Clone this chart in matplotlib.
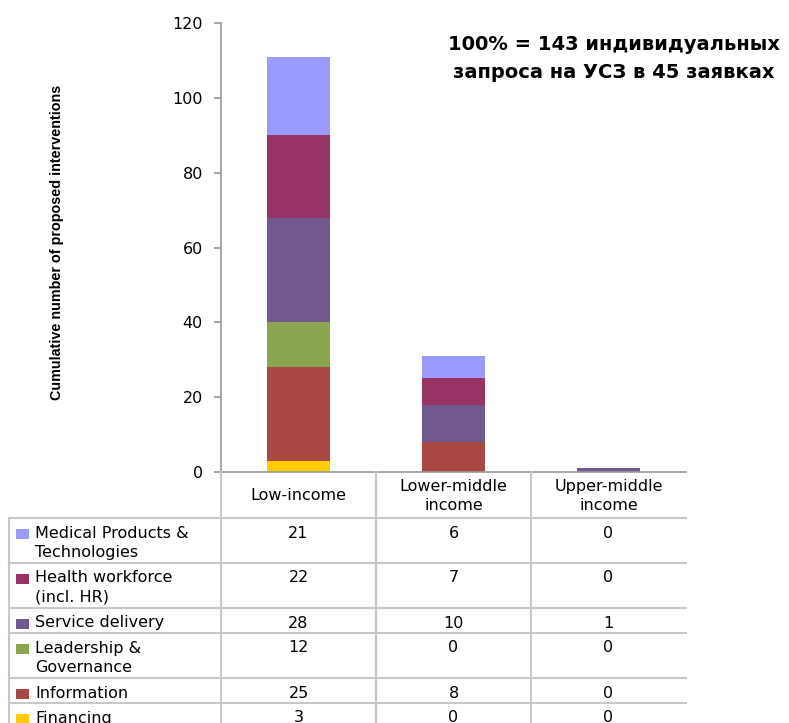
import matplotlib
matplotlib.use("Agg")
import matplotlib.pyplot as plt
from matplotlib.transforms import blended_transform_factory
from matplotlib.patches import Rectangle
from matplotlib.lines import Line2D

# Income groups (columns) and health-system components (stack order, bottom to top)
income_groups = ["Low-income", "Lower-middle\nincome", "Upper-middle\nincome"]
components = ["Financing", "Information", "Leadership &\nGovernance",
              "Service delivery", "Health workforce\n(incl. HR)",
              "Medical Products &\nTechnologies"]

financing = [3, 0, 0]
information = [25, 8, 0]
leadership = [12, 0, 0]
service_delivery = [28, 10, 1]
health_workforce = [22, 7, 0]
medical_products = [21, 6, 0]

series = [financing, information, leadership, service_delivery,
          health_workforce, medical_products]
colors = ["#FFCC00", "#A94743", "#8BA54F", "#71588F", "#993366", "#9B9BFF"]

y_ticks = [0, 20, 40, 60, 80, 100, 120]
title_lines = ["100% = 143 индивидуальных", "запроса на УСЗ в 45 заявках"]
y_label = "Cumulative number of proposed interventions"

W, H = 789, 723
fig = plt.figure(figsize=(W / 100, H / 100), dpi=100)
fig.patch.set_facecolor("white")

FONT = "DejaVu Sans"
GRID = "#C8C8C8"
AXIS = "#9A9A9A"

# --- stacked bars ---------------------------------------------------------
ax = fig.add_axes([221 / W, 1 - 472 / H, (686 - 221) / W, (472 - 23) / H])
ax.patch.set_alpha(0)
x = list(range(len(income_groups)))
bottom = [0] * len(x)
for vals, col in zip(series, colors):
    ax.bar(x, vals, width=0.41, bottom=bottom, color=col, linewidth=0, zorder=2)
    bottom = [b + v for b, v in zip(bottom, vals)]

ax.set_xlim(-0.5, len(x) - 0.5)
ax.set_ylim(0, 120)
ax.set_yticks(y_ticks)
ax.set_yticklabels([str(t) for t in y_ticks], fontsize=11.5, family=FONT)
ax.set_xticks([])
for side in ("top", "right"):
    ax.spines[side].set_visible(False)
for side in ("left", "bottom"):
    ax.spines[side].set_color(AXIS)
    ax.spines[side].set_linewidth(1.2)
ax.tick_params(axis="y", length=5, width=1.2, color=AXIS, pad=8)

fig.text(57 / W, 1 - 242 / H, y_label, rotation=90, ha="center", va="center",
         fontsize=10.4, fontweight="bold",
         family=["Liberation Sans Narrow", "Liberation Sans", "DejaVu Sans"])

for i, line in enumerate(title_lines):
    fig.text(614 / W, 1 - (45 + 28 * i) / H, line, ha="center", va="center",
             fontsize=14, fontweight="bold", family=FONT)

# --- data table underneath ------------------------------------------------
ov = fig.add_axes([0, 0, 1, 1], zorder=5)
ov.set_xlim(0, W)
ov.set_ylim(H, 0)
ov.axis("off")
ov.patch.set_alpha(0)
tr = blended_transform_factory(ax.transData, ov.transData)

x_left = -0.5
x_right = len(x) - 0.5
table_left_px = 9
header_top, header_bottom = 472, 518

# column separators
for b in [x_left + k for k in range(len(x))]:
    ov.add_line(Line2D([b, b], [header_top, H], color=GRID, lw=1.5,
                       transform=tr, clip_on=False))

# header labels
for xi, name in zip(x, income_groups):
    lines = name.split("\n")
    mid = (header_top + header_bottom) / 2
    start = mid - 9.5 * (len(lines) - 1)
    for j, ln in enumerate(lines):
        ov.text(xi, start + 19 * j + 5.5, ln, transform=tr, ha="center",
                va="baseline", fontsize=11.5, family=FONT)

# body rows: top to bottom is the reverse of the stacking order
rows = list(zip(components, series, colors))[::-1]
top = header_bottom
right_x = ax.transData.transform((x_right, 0))[0]
for label, vals, col in rows:
    lines = label.split("\n")
    height = 25 if len(lines) == 1 else 45
    # horizontal rule at top of row
    ov.plot([table_left_px, right_x], [top, top], color=GRID, lw=1.5,
            clip_on=False)
    ov.add_patch(Rectangle((16, top + 11), 13, 9.5, facecolor=col,
                           edgecolor="none", clip_on=False))
    for j, ln in enumerate(lines):
        ov.text(35, top + 19.5 + 19 * j, ln, ha="left", va="baseline",
                fontsize=11.5, family=FONT)
    for xi, v in zip(x, vals):
        ov.text(xi, top + 19.5, str(v), transform=tr, ha="center",
                va="baseline", fontsize=11.5, family=FONT)
    top += height

# left border of the table
ov.plot([table_left_px, table_left_px], [header_bottom, H], color=GRID,
        lw=1.5, clip_on=False)

fig.savefig("out.png", dpi=100, facecolor="white")
